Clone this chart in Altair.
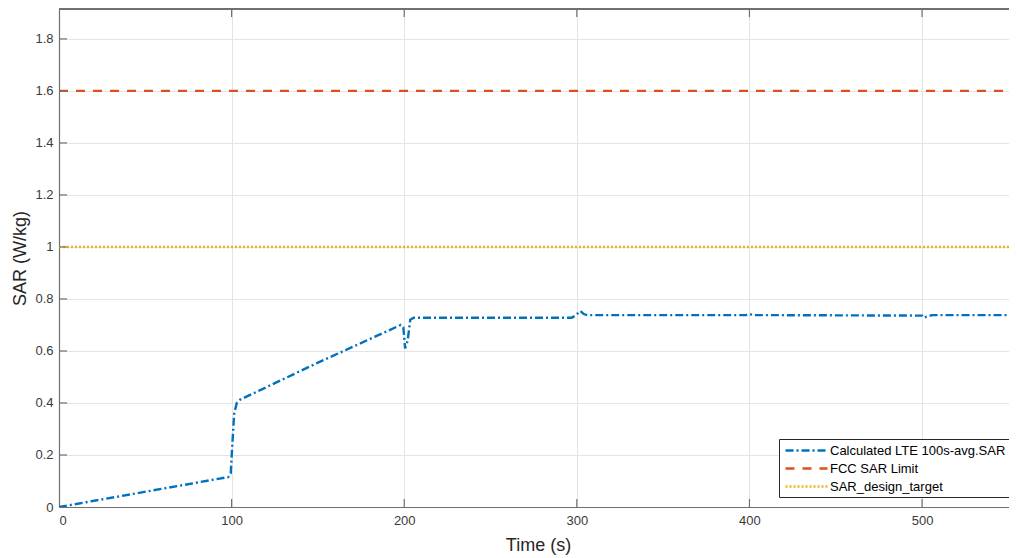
import altair as alt
import pandas as pd

# ---- data ----
sar_time = [0, 98, 99.5, 100.5, 101.5, 103, 105, 150, 198, 199.5, 200.5, 202, 203.5, 205.5,
            250, 297, 299, 302, 304, 306, 398, 400, 402, 500, 501, 503, 506, 555]
sar_value = [0, 0.115, 0.13, 0.25, 0.36, 0.40, 0.413, 0.555, 0.70, 0.69, 0.61, 0.64, 0.72, 0.728,
             0.728, 0.728, 0.735, 0.754, 0.742, 0.738, 0.738, 0.742, 0.738, 0.736, 0.728, 0.733, 0.738, 0.738]
fcc_limit = 1.6
design_target = 1.0
x_max = 555
y_max = 1.915

series_names = ["Calculated LTE 100s-avg.SAR", "FCC SAR Limit", "SAR_design_target"]
series_colors = ["#0072BD", "#D95319", "#EDB120"]
series_dash = [[8, 3, 2, 3], [9, 8], [2, 2]]

x_ticks = [0, 100, 200, 300, 400, 500]
y_ticks = [0, 0.2, 0.4, 0.6, 0.8, 1.0, 1.2, 1.4, 1.6, 1.8]

# ---- tables ----
rows = []
for t, v in zip(sar_time, sar_value):
    rows.append({"series": series_names[0], "time": t, "sar": v})
for t in [0, x_max]:
    rows.append({"series": series_names[1], "time": t, "sar": fcc_limit})
for t in [0, x_max]:
    rows.append({"series": series_names[2], "time": t, "sar": design_target})
df = pd.DataFrame(rows)

xt = pd.DataFrame({"time": x_ticks[1:]})
yt = pd.DataFrame({"sar": y_ticks[1:]})

W, H = 958, 498
FONT = "Liberation Sans"
AXC = "#707070"

xs = alt.Scale(domain=[0, x_max], nice=False, zero=False)
ys = alt.Scale(domain=[0, y_max], nice=False, zero=False)
x_axis = alt.Axis(values=x_ticks, title="Time (s)", format="d", labelPadding=7, titlePadding=9)
y_axis = alt.Axis(values=y_ticks, title="SAR (W/kg)", format="~g", labelPadding=6, titlePadding=5)

lines = alt.Chart(df).mark_line(strokeWidth=2.4, clip=True).encode(
    x=alt.X("time:Q", scale=xs, axis=x_axis),
    y=alt.Y("sar:Q", scale=ys, axis=y_axis),
    color=alt.Color("series:N", scale=alt.Scale(domain=series_names, range=series_colors),
                    legend=alt.Legend(title=None)),
    strokeDash=alt.StrokeDash("series:N", scale=alt.Scale(domain=series_names, range=series_dash),
                              legend=alt.Legend(title=None)),
)

top_border = alt.Chart(df).mark_rule(color=AXC, strokeWidth=1.2).encode(
    x=alt.value(0), x2=alt.value(W), y=alt.value(0)
)

x_ticks_bottom = alt.Chart(xt).mark_rule(color=AXC, strokeWidth=1.2).encode(
    x=alt.X("time:Q", scale=xs, axis=x_axis), y=alt.value(H), y2=alt.value(H - 8)
)
x_ticks_top = alt.Chart(xt).mark_rule(color=AXC, strokeWidth=1.2).encode(
    x=alt.X("time:Q", scale=xs, axis=x_axis), y=alt.value(0), y2=alt.value(8)
)
y_ticks_left = alt.Chart(yt).mark_rule(color=AXC, strokeWidth=1.2).encode(
    y=alt.Y("sar:Q", scale=ys, axis=y_axis), x=alt.value(0), x2=alt.value(8)
)

chart = alt.layer(lines, top_border, x_ticks_bottom, x_ticks_top, y_ticks_left).properties(
    width=W, height=H,
    autosize="none",
    padding={"left": 51, "top": 1, "right": -8, "bottom": 48},
).configure_view(
    stroke=None
).configure_axis(
    domainColor=AXC, domainWidth=1.2, ticks=False, grid=True, gridColor="#e4e4e4",
    labelFont=FONT, labelFontSize=13, labelColor="#3a3a3a",
    titleFont=FONT, titleFontSize=18, titleFontWeight="normal", titleColor="#262626",
).configure_legend(
    orient="none", legendX=720, legendY=430,
    fillColor="white", strokeColor="#262626", padding=3, cornerRadius=0,
    labelFont=FONT, labelFontSize=13, labelColor="#000000", labelOffset=15, labelLimit=400,
    symbolType="M-3,0H3", symbolSize=196, symbolStrokeWidth=2.4, symbolOffset=16,
    rowPadding=2,
)

chart.save("out.html", embed_options={"renderer": "svg", "actions": False})
